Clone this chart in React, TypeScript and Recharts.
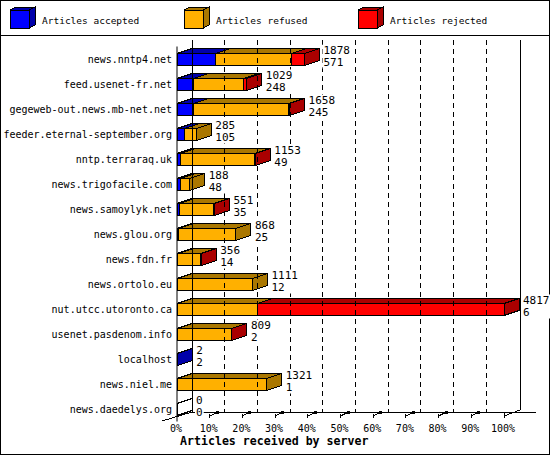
import React from 'react';
import { BarChart, Bar, XAxis, YAxis, ReferenceLine, LabelList, Customized } from 'recharts';

const SERVERS = [
    'news.nntp4.net',
    'feed.usenet-fr.net',
    'gegeweb-out.news.mb-net.net',
    'feeder.eternal-september.org',
    'nntp.terraraq.uk',
    'news.trigofacile.com',
    'news.samoylyk.net',
    'news.glou.org',
    'news.fdn.fr',
    'news.ortolo.eu',
    'nut.utcc.utoronto.ca',
    'usenet.pasdenom.info',
    'localhost',
    'news.niel.me',
    'news.daedelys.org'
];

// totals and accepted counts are printed next to each bar
const TOTALS = [1878, 1029, 1658, 285, 1153, 188, 551, 868, 356, 1111, 4817, 809, 2, 1321, 0];
const ACCEPTED = [571, 248, 245, 105, 49, 48, 35, 25, 14, 12, 6, 2, 2, 1, 0];
// refused / rejected
const REFUSED = [1121, 731, 1393, 180, 1089, 140, 504, 843, 334, 1099, 1175, 797, 0, 1320, 0];
const REJECTED = [186, 50, 20, 0, 15, 0, 12, 0, 8, 0, 3636, 10, 0, 0, 0];

const PERCENT_TICKS = [0, 10, 20, 30, 40, 50, 60, 70, 80, 90, 100];

const LEGEND = [
    { label: 'Articles accepted', front: '#0000FF', dark: '#0000AA' },
    { label: 'Articles refused', front: '#FFB000', dark: '#AA7700' },
    { label: 'Articles rejected', front: '#FF0000', dark: '#AA0000' }
];

const MAX_TOTAL = Math.max(...TOTALS);

const data = SERVERS.map((server, i) => ({
    server,
    total: TOTALS[i],
    accepted: ACCEPTED[i],
    refused: REFUSED[i],
    rejected: REJECTED[i]
}));

const DX = 15;
const DY = 5;
const MONO = '"DejaVu Sans Mono", "Liberation Mono", monospace';

const prism = (key: string, front: string, dark: string) => (props: any) => {
    const { x, y, width, height, payload } = props;
    if (x == null || y == null) return null;
    const w = Math.max(width || 0, 0);
    const h = height;
    const value = payload ? payload[key] : 0;
    const empty = payload && payload.total === 0;
    if (!value && !(empty && key === 'accepted')) return <g />;
    const fillFront = empty ? 'none' : front;
    const fillDark = empty ? 'none' : dark;
    return (
        <g shapeRendering="crispEdges">
            <polygon
                points={`${x + w},${y} ${x + w + DX},${y - DY} ${x + w + DX},${y + h - DY} ${x + w},${y + h}`}
                fill={fillDark}
                stroke="#000"
            />
            <polygon
                points={`${x},${y} ${x + DX},${y - DY} ${x + w + DX},${y - DY} ${x + w},${y}`}
                fill={fillDark}
                stroke="#000"
            />
            {w > 0 && <rect x={x} y={y} width={w} height={h} fill={fillFront} stroke="#000" />}
        </g>
    );
};

const ValueLabel = (props: any) => {
    const box = props.viewBox || props;
    const { x, y, width, height } = box;
    const i = props.index;
    const lx = x + (width || 0) + DX + 4;
    const top = String(TOTALS[i]);
    const bottom = String(ACCEPTED[i]);
    const bw = Math.max(top.length, bottom.length) * 6.7 + 2;
    return (
        <g fontFamily={MONO} fontSize={11} fill="#000">
            <rect x={lx - 1} y={y - 9} width={bw} height={height + 12} fill="#fff" />
            <text x={lx} y={y}>{top}</text>
            <text x={lx} y={y + height}>{bottom}</text>
        </g>
    );
};

const CategoryTick = (props: any) => {
    const { y, payload } = props;
    return (
        <text x={172} y={y + 3.5} textAnchor="end" fontFamily={MONO} fontSize={10} fill="#000">
            {payload.value}
        </text>
    );
};

const FloorTick = (props: any) => {
    const { x, index } = props;
    const pct = PERCENT_TICKS[index];
    return (
        <g>
            {pct > 0 && pct < 100 && (
                <g shapeRendering="crispEdges">
                    <line x1={x} y1={414} x2={x} y2={418} stroke="#000" />
                    <line x1={x} y1={416} x2={x + 6} y2={413} stroke="#000" />
                    <rect x={x + 6} y={410.5} width={3} height={3} fill="#000" />
                </g>
            )}
            {pct === 100 && (
                <g shapeRendering="crispEdges">
                    <line x1={x} y1={413} x2={x} y2={418} stroke="#000" />
                    <line x1={x} y1={416} x2={x + DX + 1} y2={410} stroke="#000" />
                </g>
            )}
            <text x={x - 1} y={432} textAnchor="middle" fontFamily={MONO} fontSize={10} fill="#000">
                {`${pct}%`}
            </text>
        </g>
    );
};

const GridShape = (props: any) => {
    const { x1 } = props;
    return (
        <line
            x1={x1 + DX}
            y1={40}
            x2={x1 + DX}
            y2={412}
            stroke="#000"
            strokeDasharray="5 4"
            shapeRendering="crispEdges"
        />
    );
};

const BackWall = (props: any) => {
    const { x1 } = props;
    return (
        <g stroke="#000" shapeRendering="crispEdges">
            <line x1={x1 + DX} y1={40} x2={x1 + DX} y2={412} />
            <line x1={x1 - 15} y1={421} x2={x1 + DX} y2={412} />
            <line x1={x1 + DX} y1={412} x2={x1 + DX + 344} y2={412} />
        </g>
    );
};

const RightWall = (props: any) => {
    const { x1 } = props;
    return (
        <g stroke="#000" shapeRendering="crispEdges">
            <line x1={x1 + DX + 1} y1={40} x2={x1 + DX + 1} y2={410} />
        </g>
    );
};

const Cube = ({ x, y, front, dark }: { x: number; y: number; front: string; dark: string }) => (
    <g stroke="#000" shapeRendering="crispEdges">
        <polygon points={`${x},${y} ${x + 6},${y - 3} ${x + 25},${y - 3} ${x + 19},${y}`} fill={dark} />
        <polygon points={`${x + 19},${y} ${x + 25},${y - 3} ${x + 25},${y + 15} ${x + 19},${y + 18}`} fill={dark} />
        <rect x={x} y={y} width={19} height={18} fill={front} />
    </g>
);

const LEGEND_X = [10, 184, 358];

const Frame = () => (
    <g>
        <rect x={0.5} y={0.5} width={549} height={454} fill="#fff" stroke="#000" shapeRendering="crispEdges" />
        <line x1={0} y1={35.5} x2={550} y2={35.5} stroke="#000" shapeRendering="crispEdges" />
        {LEGEND.map((item, i) => (
            <g key={item.label}>
                <Cube x={LEGEND_X[i]} y={10} front={item.front} dark={item.dark} />
                <text x={LEGEND_X[i] + 32} y={24} fontFamily={MONO} fontSize={9.5} fill="#000">
                    {item.label}
                </text>
            </g>
        ))}
        <text x={180} y={445} fontFamily={MONO} fontSize={11.6} fontWeight="bold" fill="#000">
            Articles received by server
        </text>
    </g>
);

const App: React.FC = () => {
    return (
        <div style={{ position: 'absolute', left: 0, top: 0, width: 550, height: 455 }}>
            <BarChart
                layout="vertical"
                width={550}
                height={455}
                data={data}
                margin={{ top: 46.5, right: 46, bottom: 3.5, left: 0 }}
                barSize={12}
            >
                <Customized component={<Frame />} />
                <XAxis
                    type="number"
                    domain={[0, MAX_TOTAL]}
                    ticks={PERCENT_TICKS.map(p => (MAX_TOTAL * p) / 100)}
                    interval={0}
                    height={30}
                    axisLine={false}
                    tickLine={false}
                    tick={<FloorTick />}
                />
                <YAxis
                    type="category"
                    dataKey="server"
                    width={177}
                    interval={0}
                    axisLine={{ stroke: '#000' }}
                    tickLine={false}
                    tick={<CategoryTick />}
                />
                <ReferenceLine x={0} shape={BackWall} />
                {PERCENT_TICKS.slice(1, 10).map(p => (
                    <ReferenceLine key={p} x={(MAX_TOTAL * p) / 100} shape={GridShape} />
                ))}
                <ReferenceLine x={MAX_TOTAL} shape={RightWall} />
                <Bar dataKey="accepted" stackId="a" isAnimationActive={false} shape={prism('accepted', LEGEND[0].front, LEGEND[0].dark)} />
                <Bar dataKey="refused" stackId="a" isAnimationActive={false} shape={prism('refused', LEGEND[1].front, LEGEND[1].dark)} />
                <Bar dataKey="rejected" stackId="a" isAnimationActive={false} shape={prism('rejected', LEGEND[2].front, LEGEND[2].dark)}>
                    <LabelList dataKey="total" content={<ValueLabel />} />
                </Bar>
            </BarChart>
        </div>
    );
};

export default App;
